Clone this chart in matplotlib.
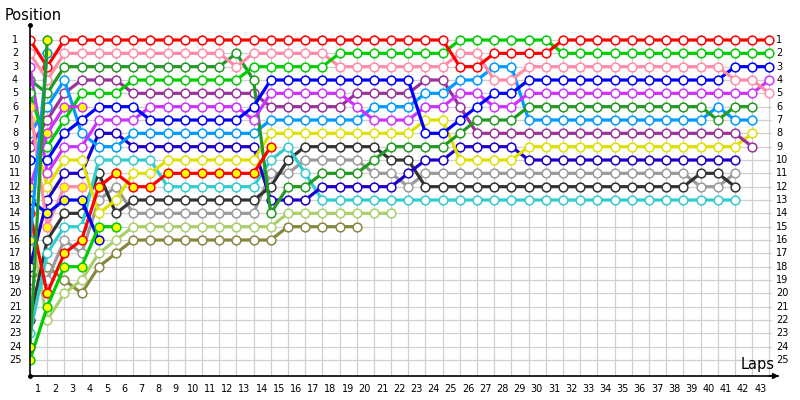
import numpy as np
import matplotlib.pyplot as plt

# =========================
# Lap chart data: position after each lap (index 0 = grid)
# =========================

red = [1, 3, 1, 1, 1, 1, 1, 1, 1, 1,
       1, 1, 1, 1, 1, 1, 1, 1, 1, 1,
       1, 1, 1, 1, 1, 3, 3, 2, 2, 2,
       2, 1, 1, 1, 1, 1, 1, 1, 1, 1,
       1, 1, 1, 1]
green = [5, 9, 7, 5, 5, 5, 4, 4, 4, 4,
         4, 4, 4, 3, 3, 3, 3, 3, 2, 2,
         2, 2, 2, 2, 2, 1, 1, 1, 1, 1,
         1, 2, 2, 2, 2, 2, 2, 2, 2, 2,
         2, 2, 2, 2]
pink = [2, 4, 2, 2, 2, 2, 2, 2, 2, 2,
        2, 2, 3, 2, 2, 2, 2, 2, 3, 3,
        3, 3, 3, 3, 3, 2, 2, 4, 4, 3,
        3, 3, 3, 3, 3, 3, 3, 3, 3, 3,
        3, 4, 4, 5]
blue = [10, 10, 8, 7, 6, 6, 6, 7, 7, 7,
        7, 7, 7, 6, 4, 4, 4, 4, 4, 4,
        4, 4, 4, 8, 8, 7, 6, 5, 5, 4,
        4, 4, 4, 4, 4, 4, 4, 4, 4, 4,
        4, 3, 3, 3]
violet = [3, 11, 9, 9, 7, 7, 7, 6, 6, 6,
          6, 6, 6, 7, 5, 5, 5, 5, 5, 6,
          7, 7, 7, 6, 6, 5, 5, 6, 6, 5,
          5, 5, 5, 5, 5, 5, 5, 5, 5, 5,
          5, 5, 5, 4]
dkgreen = [4, 5, 3, 3, 3, 3, 3, 3, 3, 3,
           3, 3, 2, 4, 14, 12, 12, 11, 11, 11,
           10, 9, 9, 9, 9, 8, 7, 7, 7, 6,
           6, 6, 6, 6, 6, 6, 6, 6, 6, 6,
           7, 6, 6]
ltblue = [8, 6, 4, 8, 9, 9, 8, 8, 8, 8,
          8, 8, 8, 8, 7, 7, 7, 7, 7, 7,
          6, 6, 6, 5, 5, 4, 4, 3, 3, 7,
          7, 7, 7, 7, 7, 7, 7, 7, 7, 7,
          6, 7, 7]
yellow = [7, 12, 10, 10, 14, 13, 11, 11, 10, 10,
          10, 10, 10, 10, 8, 8, 8, 8, 8, 8,
          8, 8, 8, 7, 7, 10, 10, 10, 10, 9,
          9, 9, 9, 9, 9, 9, 9, 9, 9, 9,
          9, 9, 8]
purple = [9, 7, 5, 4, 4, 4, 5, 5, 5, 5,
          5, 5, 5, 5, 6, 6, 6, 6, 6, 5,
          5, 5, 5, 4, 4, 6, 8, 8, 8, 8,
          8, 8, 8, 8, 8, 8, 8, 8, 8, 8,
          8, 8, 9]
navy = [18, 13, 11, 11, 8, 8, 9, 9, 9, 9,
        9, 9, 9, 9, 13, 13, 13, 12, 12, 12,
        12, 12, 11, 10, 10, 9, 9, 9, 9, 10,
        10, 10, 10, 10, 10, 10, 10, 10, 10, 10,
        10, 10]
gray = [20, 19, 16, 17, 13, 12, 14, 14, 14, 14,
        14, 14, 14, 14, 11, 11, 10, 10, 10, 10,
        11, 11, 12, 11, 11, 11, 11, 11, 11, 11,
        11, 11, 11, 11, 11, 11, 11, 11, 11, 12,
        12, 11]
black = [22, 16, 14, 14, 11, 14, 13, 13, 13, 13,
         13, 13, 13, 13, 12, 10, 9, 9, 9, 9,
         9, 10, 10, 12, 12, 12, 12, 12, 12, 12,
         12, 12, 12, 12, 12, 12, 12, 12, 12, 11,
         11, 12]
cyan = [23, 17, 15, 15, 10, 10, 10, 10, 12, 12,
        12, 12, 12, 12, 10, 9, 11, 13, 13, 13,
        13, 13, 13, 13, 13, 13, 13, 13, 13, 13,
        13, 13, 13, 13, 13, 13, 13, 13, 13, 13,
        13, 13]
ltgreen = [15, 22, 20, 19, 17, 16, 15, 15, 15, 15,
           15, 15, 15, 15, 15, 14, 14, 14, 14, 14,
           14, 14]
olive = [19, 18, 19, 20, 18, 17, 16, 16, 16, 16,
         16, 16, 16, 16, 16, 15, 15, 15, 15, 15]

# drivers drawn with yellow-filled markers
red_y = [14, 20, 17, 16, 12, 11, 12, 12, 11, 11, 11, 11, 11, 11, 9]
pink_y = [6, 15, 12, 12]
violet_y = [12, 8, 6, 6]
blue_y = [13, 14, 13, 13, 16]
green_y = [25, 21, 18, 18, 15, 15]
ltblue_y = [16, 2]
dkgreen_y = [24, 1]

series = [
    (olive, "#87873f", "white"),
    (ltgreen, "#a8cf6a", "white"),
    (gray, "#9a9a9a", "white"),
    (black, "#333333", "white"),
    (cyan, "#33cccc", "white"),
    (navy, "#1c00c8", "white"),
    (yellow, "#e0e000", "white"),
    (purple, "#993399", "white"),
    (ltblue, "#0099ff", "white"),
    (dkgreen, "#229922", "white"),
    (violet, "#cc33ff", "white"),
    (blue, "#0000ff", "white"),
    (pink, "#ff8ca8", "white"),
    (green, "#00cc00", "white"),
    (red, "#ff0000", "white"),
    (red_y, "#ff0000", "#ffff00"),
    (pink_y, "#ff8ca8", "#ffff00"),
    (violet_y, "#cc33ff", "#ffff00"),
    (blue_y, "#0000ff", "#ffff00"),
    (green_y, "#00cc00", "#ffff00"),
    (ltblue_y, "#0099ff", "#ffff00"),
    (dkgreen_y, "#229922", "#ffff00"),
]

n_laps = 43
n_pos = 25

# =========================
# Figure
# =========================

fig = plt.figure(figsize=(8, 4), dpi=100)
ax = fig.add_axes([30 / 800, 24 / 400, 748 / 800, 351 / 400])
ax.set_xlim(0, 43.5)
ax.set_ylim(26.2, -0.125)

# grid
for p in range(1, n_pos + 1):
    ax.plot([0, n_laps + 0.1], [p, p], color="#d0d0d0", lw=0.9, zorder=0)
for k in range(1, n_laps + 1):
    ax.plot([k, k], [0.6, 26.2], color="#d0d0d0", lw=0.9, zorder=0)

# drivers
for pos, col, fill in series:
    laps = np.arange(len(pos))
    ax.plot(laps, pos, color=col, lw=2.3, marker="o", ms=6.3,
            mfc=fill, mec=col, mew=1.1, solid_joinstyle="round", zorder=2)

# axes
for s in ["top", "right"]:
    ax.spines[s].set_visible(False)
ax.spines["left"].set_linewidth(1.2)
ax.spines["bottom"].set_linewidth(1.2)
ax.set_xticks([])
ax.set_yticks([])
ax.plot([0], [1], "ko", ms=2.5, transform=ax.transAxes, clip_on=False)
ax.plot([0], [0], "ko", ms=2.5, transform=ax.transAxes, clip_on=False)
ax.annotate("", xy=(1.005, 0), xytext=(0.985, 0), xycoords="axes fraction",
            arrowprops=dict(arrowstyle="-|>", color="black", lw=1.2,
                            mutation_scale=8))

# position labels, left and right
for p in range(1, n_pos + 1):
    ax.text(-0.87, p, str(p), ha="center", va="center", fontsize=7,
            clip_on=False)
    ax.text(43.4, p, str(p), ha="left", va="center", fontsize=7,
            clip_on=False)

# lap labels
for k in range(1, n_laps + 1):
    ax.text(k - 0.53, 27.2, str(k), ha="center", va="center", fontsize=7,
            clip_on=False)

fig.text(5 / 800, 1 - 15 / 400, "Position", fontsize=10.5, va="center")
fig.text(758 / 800, 1 - 364 / 400, "Laps", fontsize=10.5, ha="center",
         va="center")

fig.savefig("out.png", dpi=100)
